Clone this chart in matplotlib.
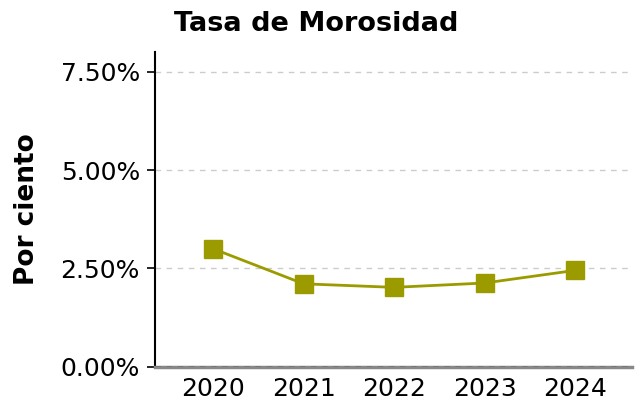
import numpy as np
import matplotlib
matplotlib.use("Agg")
import matplotlib.pyplot as plt
from matplotlib.ticker import FuncFormatter

years = ["2020", "2021", "2022", "2023", "2024"]
tasa = [3.00, 2.11, 2.02, 2.13, 2.45]
yticks = [0, 2.5, 5.0, 7.5]

olive = "#9b9b00"

fig = plt.figure(figsize=(6.39, 4.09), dpi=100)
ax = fig.add_axes([0.243, 0.103, 0.746, 0.770])

x = np.arange(len(years))
ax.plot(x, tasa, color=olive, lw=2, marker="s", markersize=13, zorder=3)

ax.set_ylim(0, 8)
ax.set_xlim(-0.64, 4.63)
ax.set_yticks(yticks)
ax.yaxis.set_major_formatter(FuncFormatter(lambda v, p: f"{v:.2f}%"))
ax.set_xticks(x)
ax.set_xticklabels(years)
ax.tick_params(axis="both", labelsize=18)
ax.tick_params(axis="x", length=0, pad=7)
ax.tick_params(axis="y", length=6, width=1.2, pad=5)

ax.grid(axis="y", color="#cccccc", ls=(0, (4, 4)), lw=1)
ax.set_axisbelow(True)
for s in ["top", "right"]:
    ax.spines[s].set_visible(False)
ax.spines["left"].set_linewidth(1.5)
ax.spines["bottom"].set_color("#888888")
ax.spines["bottom"].set_linewidth(2.5)
ax.axhline(0, color="#333333", ls=(0, (4, 4)), lw=1, zorder=4)

ax.set_ylabel("Por ciento", fontsize=19, fontweight="bold", labelpad=15)
fig.suptitle("Tasa de Morosidad", fontsize=19.5, fontweight="bold", x=0.495, y=0.972)

fig.savefig("out.png", dpi=100)
